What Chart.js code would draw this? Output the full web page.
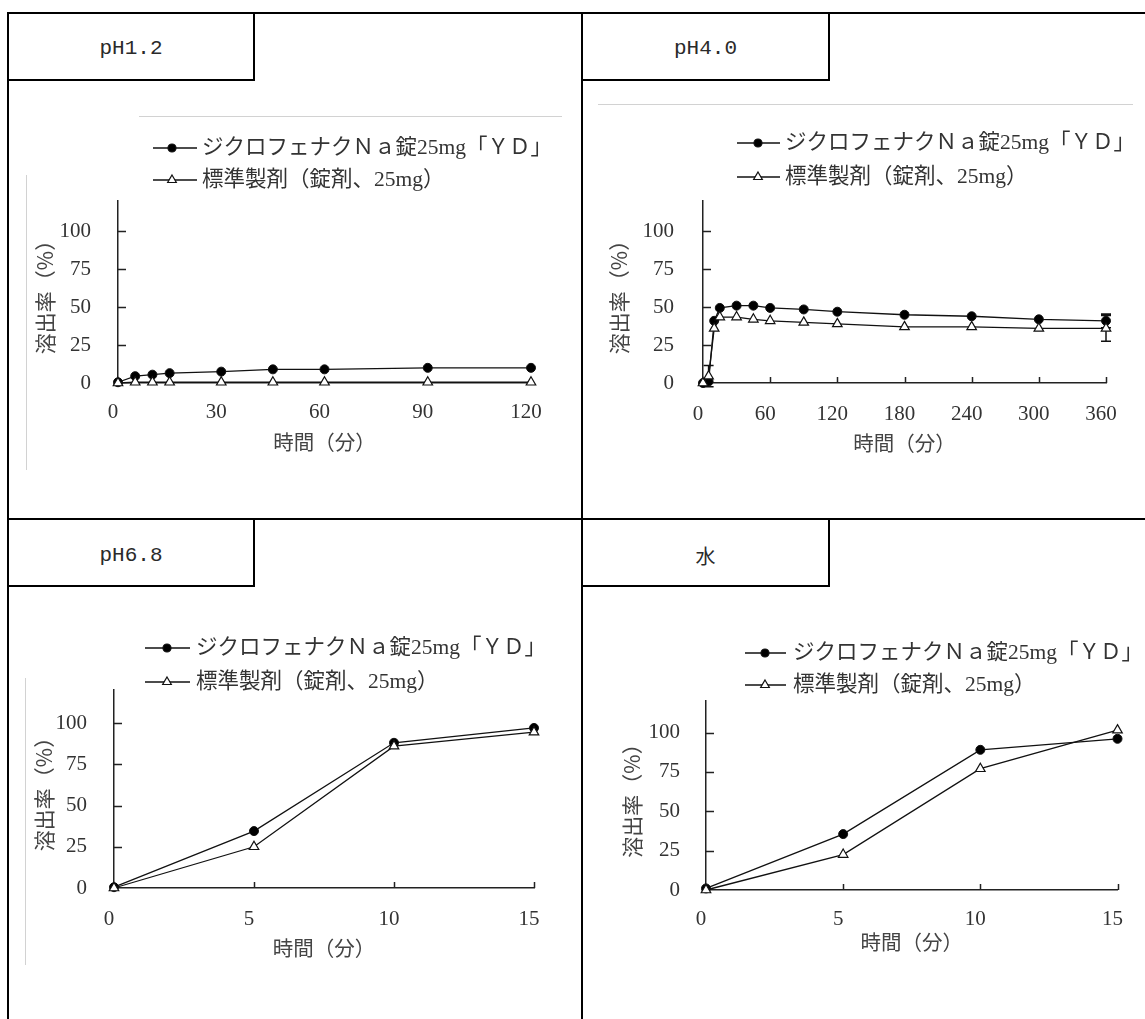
<!DOCTYPE html>
<html lang="ja">
<head>
<meta charset="utf-8">
<script src="https://cdn.jsdelivr.net/npm/chart.js@4/dist/chart.umd.min.js"></script>
<style>
  html, body { margin: 0; padding: 0; background: #fff; }
  body { width: 1145px; height: 1019px; position: relative; overflow: hidden; }
  .ln { position: absolute; background: #000; }
  .gray { position: absolute; background: #d2d2d2; }
  .tab { position: absolute; display: flex; align-items: center; justify-content: center; color: #2a2a2a; }
  .ph { font: 21px "Liberation Mono", monospace; }
  .jp { font: 20px "Noto Sans CJK JP", sans-serif; }
  canvas { position: absolute; }
</style>
</head>
<body>
<!-- frame -->
<div class="ln" style="left:7px;top:12px;width:1138px;height:2px"></div>
<div class="ln" style="left:7px;top:12px;width:2px;height:1007px"></div>
<div class="ln" style="left:581px;top:12px;width:2px;height:1007px"></div>
<div class="ln" style="left:7px;top:518px;width:1138px;height:2px"></div>
<!-- tabs -->
<div class="ln" style="left:253px;top:12px;width:2px;height:69px"></div>
<div class="ln" style="left:7px;top:79px;width:248px;height:2px"></div>
<div class="ln" style="left:828px;top:12px;width:2px;height:69px"></div>
<div class="ln" style="left:581px;top:79px;width:249px;height:2px"></div>
<div class="ln" style="left:253px;top:518px;width:2px;height:69px"></div>
<div class="ln" style="left:7px;top:585px;width:248px;height:2px"></div>
<div class="ln" style="left:828px;top:518px;width:2px;height:69px"></div>
<div class="ln" style="left:581px;top:585px;width:249px;height:2px"></div>
<div class="tab ph" style="left:9px;top:14px;width:244px;height:68px">pH1.2</div>
<div class="tab ph" style="left:583px;top:14px;width:245px;height:68px">pH4.0</div>
<div class="tab ph" style="left:9px;top:520px;width:244px;height:70px">pH6.8</div>
<div class="tab jp" style="left:583px;top:520px;width:245px;height:70px">水</div>
<!-- faint lines -->
<div class="gray" style="left:139px;top:116px;width:423px;height:1px"></div>
<div class="gray" style="left:26px;top:175px;width:1px;height:295px"></div>
<div class="gray" style="left:598px;top:104px;width:535px;height:1px"></div>
<div class="gray" style="left:25px;top:678px;width:1px;height:287px"></div>

<canvas id="c1"></canvas>
<canvas id="c2"></canvas>
<canvas id="c3"></canvas>
<canvas id="c4"></canvas>

<script>
// ---- data ----
const LABEL_YD = 'ジクロフェナクＮａ錠25mg「ＹＤ」';
const LABEL_STD = '標準製剤（錠剤、25mg）';
const X_TITLE = '時間（分）';
const Y_TITLE = '溶出率（%）';

const PH12_T = [0, 5, 10, 15, 30, 45, 60, 90, 120];
const PH12_YD = [0.5, 4.5, 5.5, 6.5, 7.5, 9, 9, 10, 10];
const PH12_STD = [0, 0.5, 0.5, 0.5, 0.5, 0.5, 0.5, 0.5, 0.5];

const PH40_T = [0, 5, 10, 15, 30, 45, 60, 90, 120, 180, 240, 300, 360];
const PH40_YD = [0, 1, 41, 49.5, 51, 51, 49.5, 48.5, 47, 45, 44, 42, 41];
const PH40_STD = [0, 4.5, 36, 43.5, 43.5, 42, 41, 40, 39, 37, 37, 36, 36];
const PH40_YD_ERR = [null, null, null, null, null, null, null, null, null, null, null, null, 4.5];
const PH40_STD_ERR = [null, 7, null, null, null, null, null, null, null, null, null, null, 8.5];

const PH68_T = [0, 5, 10, 15];
const PH68_YD = [0.5, 34.5, 88, 97];
const PH68_STD = [0, 25, 86, 94.5];

const WATER_T = [0, 5, 10, 15];
const WATER_YD = [1, 35.5, 89, 96];
const WATER_STD = [0, 22.5, 77, 101.5];

const Y_MAX = 120, Y_STEP = 25;

const FONT_NUM = '"Liberation Serif", "DejaVu Serif", serif';
const FONT_JP = '"Noto Sans CJK JP", sans-serif';
const FONT_MIX = '"Liberation Serif", "Noto Sans CJK JP", serif';

const pts = (t, v) => t.map((x, i) => ({ x, y: v[i] }));

function marker(ctx, style, x, y, r, fill) {
  ctx.beginPath();
  if (style === 'circle') ctx.arc(x, y, r, 0, Math.PI * 2);
  else {
    ctx.moveTo(x, y - r);
    ctx.lineTo(x + r * 0.866, y + r * 0.5);
    ctx.lineTo(x - r * 0.866, y + r * 0.5);
    ctx.closePath();
  }
  ctx.fillStyle = fill;
  ctx.fill();
  ctx.lineWidth = 1.2;
  ctx.strokeStyle = '#111';
  ctx.stroke();
}

// inward tick marks on both axes
const inTicks = {
  id: 'inTicks',
  beforeDatasetsDraw(chart, args, o) {
    const { ctx, chartArea: a, scales: { x, y } } = chart;
    ctx.save();
    ctx.strokeStyle = '#222';
    ctx.lineWidth = 1.5;
    ctx.beginPath();
    y.ticks.forEach(t => {
      if (t.value === 0) return;
      const py = Math.round(y.getPixelForValue(t.value)) + 0.5;
      ctx.moveTo(a.left, py); ctx.lineTo(a.left + o.yLen, py);
    });
    if (o.xLen) x.ticks.forEach(t => {
      if (t.value === 0) return;
      const px = Math.round(x.getPixelForValue(t.value)) + 0.5;
      ctx.moveTo(px, a.bottom); ctx.lineTo(px, a.bottom - o.xLen);
    });
    ctx.stroke();
    ctx.restore();
  }
};

const errBars = {
  id: 'errBars',
  beforeDatasetsDraw(chart, args, o) {
    if (!o.bars) return;
    const { ctx, scales: { x, y } } = chart;
    ctx.save();
    ctx.strokeStyle = '#111';
    ctx.lineWidth = 1.5;
    ctx.beginPath();
    o.bars.forEach(b => {
      chart.data.datasets[b.ds].data.forEach((p, i) => {
        const e = b.err[i];
        if (e == null) return;
        const px = x.getPixelForValue(p.x);
        const hi = y.getPixelForValue(p.y + e), lo = y.getPixelForValue(p.y - e);
        ctx.moveTo(px, hi); ctx.lineTo(px, lo);
        ctx.moveTo(px - 5, hi); ctx.lineTo(px + 5, hi);
        ctx.moveTo(px - 5, lo); ctx.lineTo(px + 5, lo);
      });
    });
    ctx.stroke();
    ctx.restore();
  }
};

// legend with a line through the marker, two rows
const lineLegend = {
  id: 'lineLegend',
  afterDraw(chart, args, o) {
    const { ctx } = chart;
    ctx.save();
    ctx.font = '21.5px ' + FONT_MIX;
    ctx.textBaseline = 'middle';
    o.items.forEach((idx, row) => {
      const ds = chart.data.datasets[idx];
      const yy = o.rows[row];
      ctx.beginPath();
      ctx.moveTo(o.x0, yy); ctx.lineTo(o.x1, yy);
      ctx.strokeStyle = '#111'; ctx.lineWidth = 1.5;
      ctx.stroke();
      marker(ctx, ds.pointStyle, o.mx, yy, ds.legendRadius, ds.pointBackgroundColor);
      ctx.fillStyle = '#333';
      ctx.fillText(ds.label, o.tx, yy);
    });
    ctx.restore();
  }
};

function panel(id, g, t, yd, std, xMax, xStep, errs) {
  const cv = document.getElementById(id);
  const b = g.box;
  cv.width = b.w; cv.height = b.h;
  cv.style.left = b.left + 'px';
  cv.style.top = b.top + 'px';
  const bottom = b.top + b.h;
  const lg = g.lg;
  return new Chart(cv, {
    type: 'line',
    data: {
      datasets: [
        { label: LABEL_STD, data: pts(t, std), order: 0, pointStyle: 'triangle', pointRadius: 5.5,
          pointBackgroundColor: '#fff', pointBorderColor: '#111', pointBorderWidth: 1.2,
          borderColor: '#111', borderWidth: 1.3, clip: false, legendRadius: 5 },
        { label: LABEL_YD, data: pts(t, yd), order: 1, pointStyle: 'circle', pointRadius: 4.5,
          pointBackgroundColor: '#000', pointBorderColor: '#111', pointBorderWidth: 1,
          borderColor: '#111', borderWidth: 1.3, clip: false, legendRadius: 4 }
      ]
    },
    options: {
      responsive: false,
      animation: false,
      events: [],
      layout: { padding: { left: 0, top: g.topY - b.top, right: b.left + b.w - g.endX, bottom: 0 } },
      plugins: {
        legend: { display: false },
        tooltip: { enabled: false },
        inTicks: { yLen: 8, xLen: g.xTick },
        errBars: { bars: errs },
        lineLegend: {
          items: [1, 0],
          rows: [lg.y1 - b.top, lg.y2 - b.top],
          x0: lg.x0 - b.left, x1: lg.x1 - b.left, mx: lg.mx - b.left, tx: lg.tx - b.left
        }
      },
      scales: {
        x: {
          type: 'linear', min: 0, max: xMax,
          afterFit: s => { s.height = bottom - g.zeroY; },
          border: { display: true, color: '#222', width: 1.5 },
          grid: { display: false, drawTicks: false },
          ticks: { stepSize: xStep, padding: g.xLabPad, labelOffset: -5, color: '#333',
                   font: { family: FONT_NUM, size: 21 }, maxRotation: 0, autoSkip: false },
          title: { display: true, text: X_TITLE, color: '#444', font: { family: FONT_JP, size: 20.5 },
                   padding: { top: 0, bottom: bottom - g.xTitleY - 12.3 } }
        },
        y: {
          min: 0, max: Y_MAX,
          afterFit: s => { s.width = g.axisX - b.left; },
          border: { display: true, color: '#222', width: 1.5 },
          grid: { display: false, drawTicks: false },
          ticks: { stepSize: Y_STEP, includeBounds: false, padding: g.yLabPad, color: '#333',
                   font: { family: FONT_NUM, size: 21 } },
          title: { display: true, text: Y_TITLE, color: '#444', font: { family: FONT_JP, size: 21 },
                   padding: { top: g.yTitleX - b.left - 12.6, bottom: 0 } }
        }
      }
    },
    plugins: [inTicks, errBars, lineLegend]
  });
}

panel('c1', {
  box: { left: 10, top: 88, w: 570, h: 428 }, axisX: 118, zeroY: 383, topY: 201, endX: 531,
  yLabPad: 27, xLabPad: 17, yTitleX: 45, xTitleY: 442, xTick: 0,
  lg: { x0: 153, x1: 197, mx: 172, tx: 202, y1: 148, y2: 180 }
}, PH12_T, PH12_YD, PH12_STD, 120, 30, null);

panel('c2', {
  box: { left: 584, top: 88, w: 561, h: 428 }, axisX: 703, zeroY: 383, topY: 201, endX: 1106,
  yLabPad: 29, xLabPad: 19, yTitleX: 619, xTitleY: 443, xTick: 6,
  lg: { x0: 737, x1: 780, mx: 758, tx: 785, y1: 143, y2: 177 }
}, PH40_T, PH40_YD, PH40_STD, 360, 60, [{ ds: 1, err: PH40_YD_ERR }, { ds: 0, err: PH40_STD_ERR }]);

panel('c3', {
  box: { left: 10, top: 594, w: 570, h: 425 }, axisX: 114, zeroY: 888, topY: 690, endX: 534,
  yLabPad: 27, xLabPad: 19, yTitleX: 44, xTitleY: 948, xTick: 6,
  lg: { x0: 145, x1: 190, mx: 167, tx: 196, y1: 648, y2: 682 }
}, PH68_T, PH68_YD, PH68_STD, 15, 5, null);

panel('c4', {
  box: { left: 584, top: 594, w: 561, h: 425 }, axisX: 706, zeroY: 890, topY: 701, endX: 1127,
  yLabPad: 26, xLabPad: 17, yTitleX: 632, xTitleY: 942, xTick: 6,
  lg: { x0: 745, x1: 786, mx: 765, tx: 793, y1: 653, y2: 685 }
}, WATER_T, WATER_YD, WATER_STD, 15, 5, null);
</script>
</body>
</html>
